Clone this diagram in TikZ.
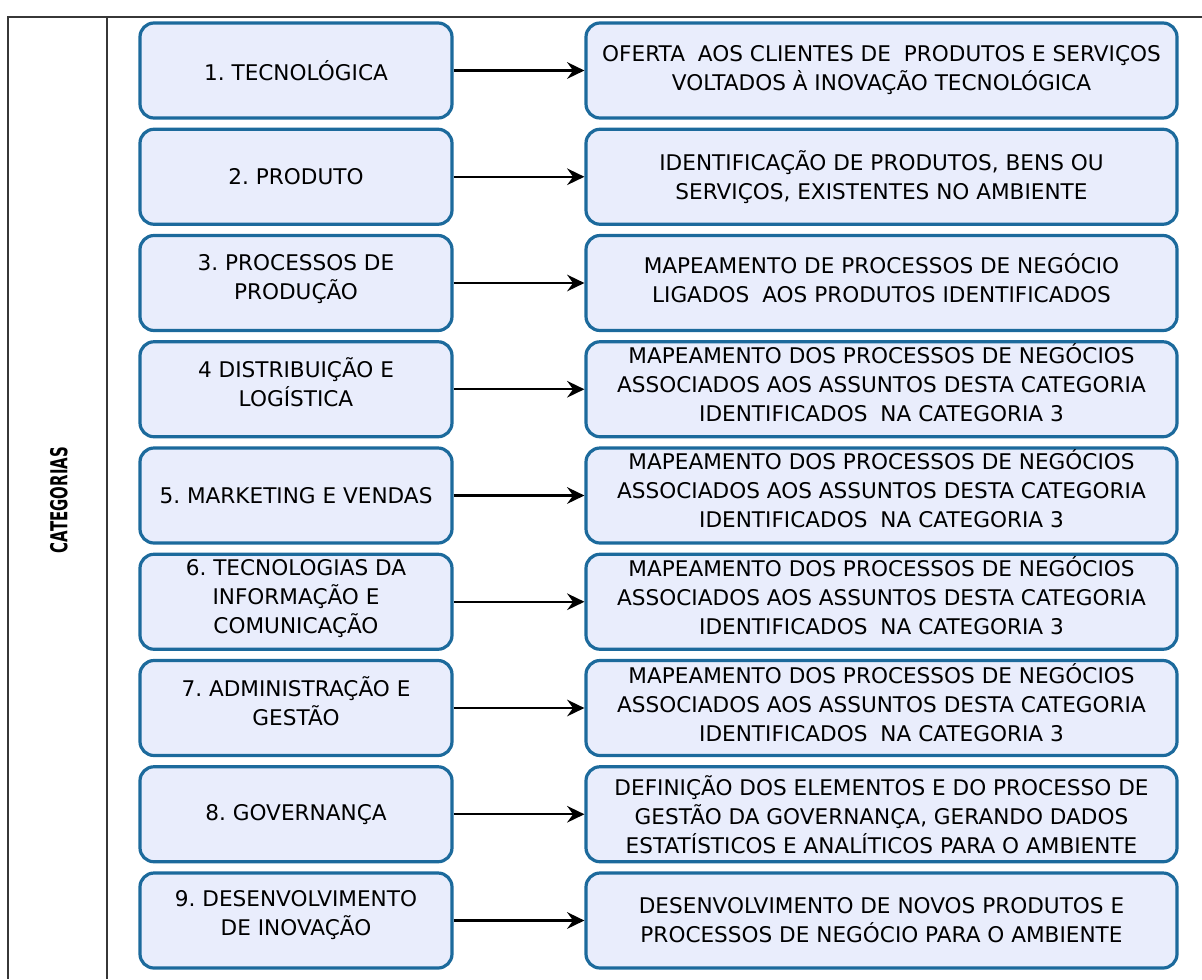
\documentclass[tikz,border=0pt]{standalone}
\usepackage{graphicx}
\usepackage{fontspec}
\setmainfont{DejaVu Sans}
\usetikzlibrary{arrows.meta}
\definecolor{boxfill}{RGB}{233,237,252}
\definecolor{boxline}{RGB}{28,106,156}
\definecolor{frameline}{RGB}{55,55,55}
\frenchspacing

\begin{document}
\begin{tikzpicture}[x=0.75pt,y=-0.75pt,
  basebox/.style={draw=boxline, line width=2.4pt, fill=boxfill,
    rounded corners=10.5pt, inner sep=0pt, minimum height=71.25pt,
    align=center, font=\fontsize{16.2pt}{21.75pt}\selectfont},
  catbox/.style={basebox, minimum width=234pt},
  descbox/.style={basebox, minimum width=443.25pt},
  lifted/.style={text depth=#1},
  link/.style={draw=black, line width=1.6pt,
    -{Stealth[length=13pt, width=12.5pt, inset=4.5pt]}},
  frame/.style={draw=frameline, line width=1.5pt}]

\useasboundingbox (0,0) rectangle (1202,979);

% table frame
\draw[frame] (8,979) -- (8,17) -- (1202,17);
\draw[frame] (107,17) -- (107,979);

\node[rotate=90, font=\bfseries\fontsize{17.5pt}{17.5pt}\selectfont] (cat) at (59,500)
  {\scalebox{0.64}[1]{CATEGORIAS}};

% category boxes
\node[catbox] (l1) at (296,70.5)   {1. TECNOLÓGICA};
\node[catbox] (l2) at (296,176.75) {2. PRODUTO};
\node[catbox, lifted=9pt] (l3) at (296,283)    {3. PROCESSOS DE\\PRODUÇÃO};
\node[catbox, lifted=11pt] (l4) at (296,389.25) {4 DISTRIBUIÇÃO E\\LOGÍSTICA};
\node[catbox] (l5) at (296,495.5)  {5. MARKETING E VENDAS};
\node[catbox, lifted=8pt] (l6) at (296,601.75) {6. TECNOLOGIAS DA\\INFORMAÇÃO E\\COMUNICAÇÃO};
\node[catbox, lifted=11pt] (l7) at (296,708)    {7. ADMINISTRAÇÃO E\\GESTÃO};
\node[catbox] (l8) at (296,814.25) {8. GOVERNANÇA};
\node[catbox, lifted=11pt] (l9) at (296,920.5)  {9. DESENVOLVIMENTO\\DE INOVAÇÃO};

% description boxes
\node[descbox] (r1) at (881.5,70.5)
  {OFERTA\hspace{0.6em}AOS CLIENTES DE\hspace{0.6em}PRODUTOS E SERVIÇOS\\VOLTADOS À INOVAÇÃO TECNOLÓGICA};
\node[descbox] (r2) at (881.5,176.75)
  {IDENTIFICAÇÃO DE PRODUTOS, BENS OU\\SERVIÇOS, EXISTENTES NO AMBIENTE};
\node[descbox, lifted=7pt] (r3) at (881.5,283)
  {MAPEAMENTO DE PROCESSOS DE NEGÓCIO\\LIGADOS\hspace{0.6em}AOS PRODUTOS IDENTIFICADOS};
\node[descbox, lifted=10pt] (r4) at (881.5,389.25)
  {MAPEAMENTO DOS PROCESSOS DE NEGÓCIOS\\ASSOCIADOS AOS ASSUNTOS DESTA CATEGORIA\\IDENTIFICADOS\hspace{0.6em}NA CATEGORIA 3};
\node[descbox, lifted=10pt] (r5) at (881.5,495.5)
  {MAPEAMENTO DOS PROCESSOS DE NEGÓCIOS\\ASSOCIADOS AOS ASSUNTOS DESTA CATEGORIA\\IDENTIFICADOS\hspace{0.6em}NA CATEGORIA 3};
\node[descbox, lifted=10pt] (r6) at (881.5,601.75)
  {MAPEAMENTO DOS PROCESSOS DE NEGÓCIOS\\ASSOCIADOS AOS ASSUNTOS DESTA CATEGORIA\\IDENTIFICADOS\hspace{0.6em}NA CATEGORIA 3};
\node[descbox, lifted=9pt] (r7) at (881.5,708)
  {MAPEAMENTO DOS PROCESSOS DE NEGÓCIOS\\ASSOCIADOS AOS ASSUNTOS DESTA CATEGORIA\\IDENTIFICADOS\hspace{0.6em}NA CATEGORIA 3};
\node[descbox] (r8) at (881.5,814.25)
  {DEFINIÇÃO DOS ELEMENTOS E DO PROCESSO DE\\GESTÃO DA GOVERNANÇA, GERANDO DADOS\\ESTATÍSTICOS E ANALÍTICOS PARA O AMBIENTE};
\node[descbox] (r9) at (881.5,920.5)
  {DESENVOLVIMENTO DE NOVOS PRODUTOS E\\PROCESSOS DE NEGÓCIO PARA O AMBIENTE};

% connectors
\foreach \k in {1,...,9}
  \draw[link] (l\k.east) -- (r\k.west);

\end{tikzpicture}
\end{document}
